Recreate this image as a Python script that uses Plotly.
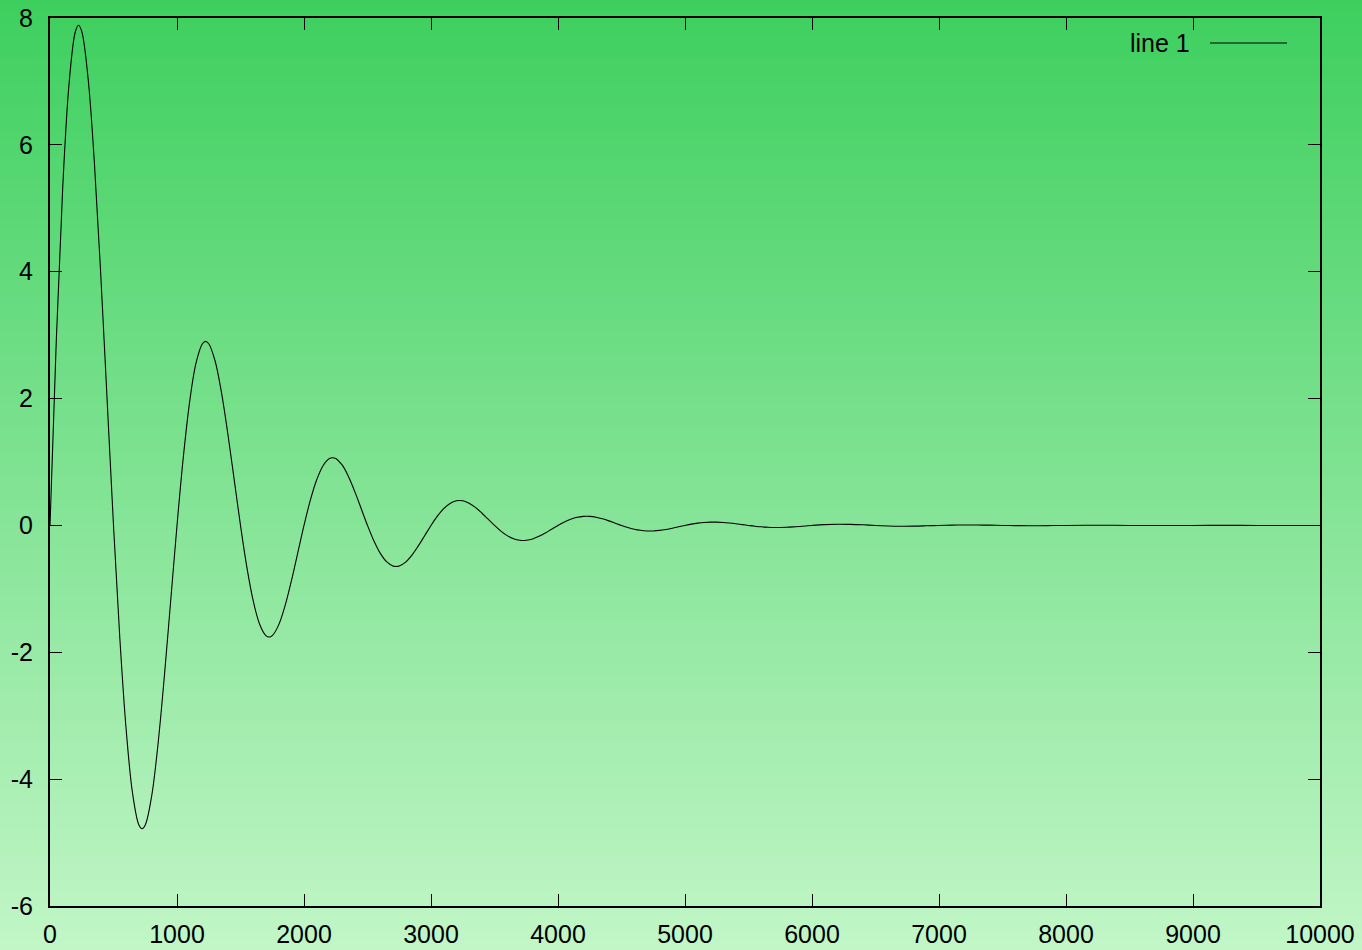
import plotly.graph_objects as go

# Damped oscillation samples
x_vals = [
    0, 50, 100, 150, 200, 225, 250, 300, 350, 400, 450,
    500, 550, 600, 650, 700, 725, 750, 800, 850, 900, 950,
    1000, 1050, 1100, 1150, 1200, 1225, 1250, 1300, 1350, 1400, 1450,
    1500, 1550, 1600, 1650, 1700, 1725, 1750, 1800, 1850, 1900, 1950,
    2000, 2050, 2100, 2150, 2200, 2225, 2250, 2300, 2350, 2400, 2450,
    2500, 2550, 2600, 2650, 2700, 2725, 2750, 2800, 2850, 2900, 2950,
    3000, 3050, 3100, 3150, 3200, 3225, 3250, 3300, 3350, 3400, 3450,
    3500, 3550, 3600, 3650, 3700, 3725, 3750, 3800, 3850, 3900, 3950,
    4000, 4050, 4100, 4150, 4200, 4225, 4250, 4300, 4350, 4400, 4450,
    4500, 4550, 4600, 4650, 4700, 4725, 4750, 4800, 4850, 4900, 4950,
    5000, 5050, 5100, 5150, 5200, 5250, 5300, 5350, 5400, 5450,
    5500, 5550, 5600, 5650, 5700, 5750, 5800, 5850, 5900, 5950,
    6000, 6100, 6200, 6300, 6400, 6500, 6600, 6700, 6800, 6900,
    7000, 7100, 7200, 7300, 7400, 7500, 7600, 7700, 7800, 7900,
    8000, 8250, 8500, 8750, 9000, 9250, 9500, 9750, 10000,
]
y_vals = [
    0.0, 2.939, 5.319, 6.963, 7.787, 7.886, 7.788, 7.046, 5.701, 3.940, 1.970,
    0.0, -1.783, -3.226, -4.223, -4.723, -4.783, -4.724, -4.274, -3.458, -2.390, -1.195,
    0.0, 1.081, 1.957, 2.562, 2.865, 2.901, 2.865, 2.592, 2.097, 1.449, 0.725,
    0.0, -0.656, -1.187, -1.554, -1.738, -1.760, -1.738, -1.572, -1.272, -0.879, -0.440,
    0.0, 0.398, 0.720, 0.942, 1.054, 1.067, 1.054, 0.954, 0.772, 0.533, 0.267,
    0.0, -0.241, -0.437, -0.572, -0.639, -0.647, -0.639, -0.578, -0.468, -0.323, -0.162,
    0.0, 0.146, 0.265, 0.347, 0.388, 0.393, 0.388, 0.351, 0.284, 0.196, 0.098,
    0.0, -0.089, -0.161, -0.210, -0.235, -0.238, -0.235, -0.213, -0.172, -0.119, -0.059,
    0.0, 0.054, 0.097, 0.128, 0.143, 0.144, 0.143, 0.129, 0.104, 0.072, 0.036,
    0.0, -0.033, -0.059, -0.077, -0.087, -0.088, -0.087, -0.078, -0.063, -0.044, -0.022,
    0.0, 0.020, 0.036, 0.047, 0.052, 0.052, 0.047, 0.038, 0.027, 0.013,
    0.0, -0.012, -0.022, -0.028, -0.032, -0.032, -0.029, -0.023, -0.016, -0.008,
    0.0, 0.013, 0.019, 0.017, 0.010, 0.0, -0.008, -0.012, -0.011, -0.006,
    0.0, 0.005, 0.007, 0.006, 0.004, 0.0, -0.003, -0.004, -0.004, -0.002,
    0.0, 0.003, 0.0, -0.002, 0.0, 0.001, 0.0, -0.001, 0.0,
]

x_ticks = list(range(0, 10001, 1000))
y_ticks = [-6, -4, -2, 0, 2, 4, 6, 8]
series_name = "line 1"

W, H = 1362, 950
ML, MR, MT, MB = 50, 42, 18, 44
PW, PH = W - ML - MR, H - MT - MB
FONT = "Liberation Sans, Arial, sans-serif"


def px_x(p):
    return (p - ML) / PW


def px_y(p):
    return (H - MB - p) / PH


fig = go.Figure()
fig.add_trace(go.Scatter(
    x=x_vals, y=y_vals, mode="lines", name=series_name,
    line=dict(color="black", width=1.1, shape="spline", smoothing=1.0),
    showlegend=False,
))

# vertical green gradient behind the whole canvas
top_rgb = (61, 207, 94)
bot_rgb = (194, 246, 199)
band = 5
shapes = []
for r in range(0, H, band):
    t = (r + band / 2) / H
    c = tuple(round(top_rgb[i] + (bot_rgb[i] - top_rgb[i]) * t) for i in range(3))
    shapes.append(dict(
        type="rect", xref="paper", yref="paper", layer="below",
        x0=px_x(0), x1=px_x(W), y0=px_y(min(r + band, H)), y1=px_y(r),
        fillcolor="rgb(%d,%d,%d)" % c, line=dict(width=0),
    ))

# key sample line
shapes.append(dict(
    type="line", xref="paper", yref="paper", layer="above",
    x0=px_x(1210), x1=px_x(1287), y0=px_y(43), y1=px_y(43),
    line=dict(color="black", width=1),
))

fig.update_layout(
    width=W, height=H,
    margin=dict(l=ML, r=MR, t=MT, b=MB, pad=0, autoexpand=False),
    paper_bgcolor="rgba(0,0,0,0)", plot_bgcolor="rgba(0,0,0,0)",
    font=dict(family=FONT, size=25, color="black"),
    shapes=shapes,
    annotations=[dict(
        text=series_name, xref="paper", yref="paper",
        x=px_x(1192), y=px_y(43), xanchor="right", yanchor="middle",
        showarrow=False, font=dict(family=FONT, size=25, color="black"),
    )],
    xaxis=dict(
        range=[0, 10000], tickvals=x_ticks, ticktext=[str(v) for v in x_ticks],
        ticks="inside", ticklen=12, tickwidth=1, tickcolor="black",
        showline=True, linecolor="black", linewidth=2, mirror="ticks",
        showgrid=False, zeroline=False, fixedrange=True, automargin=False,
        ticklabelstandoff=5,
    ),
    yaxis=dict(
        range=[-6, 8], tickvals=y_ticks, ticktext=[str(v) for v in y_ticks],
        ticks="inside", ticklen=12, tickwidth=1, tickcolor="black",
        showline=True, linecolor="black", linewidth=2, mirror="ticks",
        showgrid=False, zeroline=False, fixedrange=True, automargin=False,
        ticklabelstandoff=10,
    ),
)

fig.write_html(
    "out.html",
    config={"displayModeBar": False},
    post_script=(
        "document.documentElement.style.margin='0';"
        "document.body.style.margin='0';"
        "document.body.style.background='rgb(61,207,94)';"
    ),
)
